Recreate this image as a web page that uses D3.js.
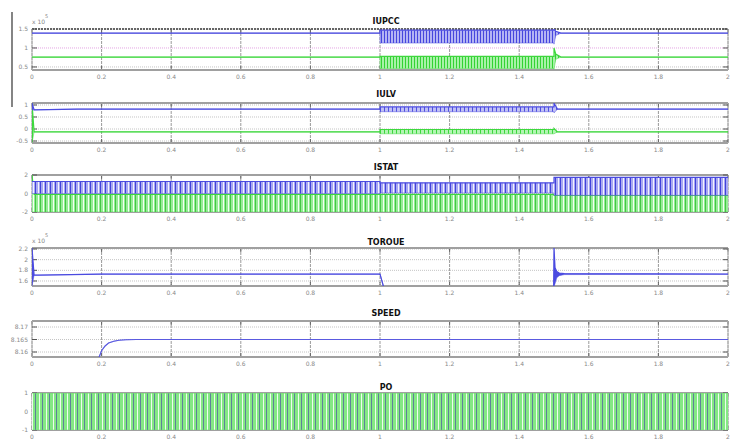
<!DOCTYPE html>
<html>
<head>
<meta charset="utf-8">
<title>Scope</title>
<script src="https://d3js.org/d3.v7.min.js" charset="utf-8"></script>
<style>
  body { margin: 0; background: #fff; }
  text { font-family: "DejaVu Sans", sans-serif; }
</style>
</head>
<body>
<div class="box"></div>
<script type="text/javascript">
    // time axis (s)
    var xTicks = [0, 0.2, 0.4, 0.6, 0.8, 1, 1.2, 1.4, 1.6, 1.8, 2];
    var xTickLabels = ["0", "0.2", "0.4", "0.6", "0.8", "1", "1.2", "1.4", "1.6", "1.8", "2"];

    // IUPCC (x10^5) - envelopes of the two traces
    var iupccTime = [0, 1.0, 1.0, 1.5, 1.5, 1.505, 1.52, 2];
    var iupccBlueHi = [1.39, 1.39, 1.47, 1.47, 1.5, 1.44, 1.39, 1.39];
    var iupccBlueLo = [1.39, 1.39, 1.13, 1.13, 1.1, 1.33, 1.39, 1.39];
    var iupccGreenHi = [0.76, 0.76, 0.78, 0.78, 1.0, 0.84, 0.76, 0.76];
    var iupccGreenLo = [0.76, 0.76, 0.46, 0.46, 0.44, 0.7, 0.76, 0.76];
    var iupccTicks = [0.5, 1, 1.5];
    var iupccTickLabels = ["0.5", "1", "1.5"];

    // IULV
    var iulvTime = [0, 0.006, 0.13, 1.0, 1.0, 1.5, 1.5, 1.51, 2];
    var iulvBlueHi = [1.08, 0.8, 0.83, 0.83, 0.92, 0.92, 1.08, 0.83, 0.83];
    var iulvBlueLo = [0.8, 0.8, 0.83, 0.83, 0.72, 0.72, 0.67, 0.83, 0.83];
    var iulvGreenHi = [1.08, -0.12, -0.12, -0.12, -0.02, -0.02, 0.02, -0.12, -0.12];
    var iulvGreenLo = [-0.58, -0.12, -0.12, -0.12, -0.2, -0.2, -0.2, -0.12, -0.12];
    var iulvTicks = [-0.5, 0, 0.5, 1];
    var iulvTickLabels = ["-0.5", "0", "0.5", "1"];

    // ISTAT
    var istatTime = [0, 0.006, 1.0, 1.0, 1.5, 1.5, 2];
    var istatBlueHi = [1.3, 1.3, 1.3, 1.15, 1.15, 1.75, 1.75];
    var istatBlueLo = [0, 0, 0, 0.05, 0.05, -0.2, -0.2];
    var istatGreenHi = [2, -0.1, -0.1, -0.1, -0.1, -0.2, -0.2];
    var istatGreenLo = [-2, -2, -2, -2, -2, -2, -2];
    var istatTicks = [-2, 0, 2];
    var istatTickLabels = ["-2", "0", "2"];

    // TORQUE (x10^5)
    var torqueTime = [0, 0.006, 0.02, 0.2, 0.998, 1.0, 1.012, 1.499, 1.5, 1.503, 1.508, 1.515, 1.53, 2];
    var torqueHi = [2.22, 1.71, 1.71, 1.73, 1.73, 1.73, 1.45, 1.45, 2.22, 1.85, 1.78, 1.75, 1.74, 1.73];
    var torqueLo = [1.5, 1.71, 1.71, 1.73, 1.73, 1.73, 1.45, 1.45, 1.5, 1.55, 1.66, 1.7, 1.72, 1.73];
    var torqueTicks = [1.6, 1.8, 2.0, 2.2];
    var torqueTickLabels = ["1.6", "1.8", "2", "2.2"];

    // SPEED
    var speedTime = [0.19, 0.2, 0.21, 0.22, 0.235, 0.25, 0.27, 0.3, 0.35, 2];
    var speedValue = [8.157, 8.1605, 8.1624, 8.1636, 8.1643, 8.1647, 8.1649, 8.165, 8.165, 8.165];
    var speedTicks = [8.16, 8.165, 8.17];
    var speedTickLabels = ["8.16", "8.165", "8.17"];

    // PO (pulses between -1 and 1)
    var poTime = [0, 0.006, 2];
    var poHi = [1, 1, 1];
    var poLo = [-1, -1, -1];
    var poTicks = [-1, 0, 1];
    var poTickLabels = ["-1", "0", "1"];

    var blue = "#4b4be0";
    var green = "#3ed83e";

    var width = 743, height = 442;
    var x = d3.scaleLinear().domain([0, 2]).range([32, 728]);

    var svg = d3.select("div.box").append("svg")
        .attr("width", width)
        .attr("height", height);
    var defs = svg.append("defs");

    function stripe(id, w, bg, line, gap) {
        var p = defs.append("pattern").attr("id", id)
            .attr("patternUnits", "userSpaceOnUse")
            .attr("width", w).attr("height", 8);
        p.append("rect").attr("width", w).attr("height", 8).attr("fill", bg);
        p.append("rect").attr("width", 1).attr("height", 8).attr("fill", line);
        if (gap) p.append("rect").attr("x", Math.floor(w / 2) + 1).attr("width", 1).attr("height", 8).attr("fill", gap);
    }
    stripe("bBlue3", 3, "#b4b4f4", "#4646de");
    stripe("bGreen3", 3, "#a8f2a8", "#34d234");
    stripe("bBlue4", 4, "#c0c0f4", "#5050e0");
    stripe("bGreen4", 4, "#b4f4b4", "#3cd83c");
    stripe("bBlue5", 5, "#a8a8f2", "#4242da", "#f2f2fe");
    stripe("bGreen5", 5, "#96ec96", "#44c844", "#f4fff4");
    stripe("bPO", 7, "#84e884", "#5f7f9a", "#eefcee");

    var panels = [
        { title: "IUPCC", top: 29, bottom: 70, titleY: 24, domain: [0.42, 1.5], exp: true,
          ticks: iupccTicks, labels: iupccTickLabels, midColor: "#e4a4e4",
          bands: [
              { t: iupccTime, hi: iupccBlueHi, lo: iupccBlueLo, color: blue, fill: "url(#bBlue3)" },
              { t: iupccTime, hi: iupccGreenHi, lo: iupccGreenLo, color: green, fill: "url(#bGreen3)" }
          ] },
        { title: "IULV", top: 103, bottom: 143, titleY: 97, domain: [-0.583, 1.083],
          ticks: iulvTicks, labels: iulvTickLabels,
          bands: [
              { t: iulvTime, hi: iulvGreenHi, lo: iulvGreenLo, color: green, fill: "url(#bGreen4)" },
              { t: iulvTime, hi: iulvBlueHi, lo: iulvBlueLo, color: blue, fill: "url(#bBlue4)" }
          ] },
        { title: "ISTAT", top: 175, bottom: 212, titleY: 170, domain: [-2, 2],
          ticks: istatTicks, labels: istatTickLabels,
          bands: [
              { t: istatTime, hi: istatGreenHi, lo: istatGreenLo, color: green, fill: "url(#bGreen5)" },
              { t: istatTime, hi: istatBlueHi, lo: istatBlueLo, color: blue, fill: "url(#bBlue5)" }
          ] },
        { title: "TOROUE", top: 248, bottom: 286, titleY: 245, domain: [1.506, 2.219], exp: true,
          ticks: torqueTicks, labels: torqueTickLabels,
          bands: [
              { t: torqueTime, hi: torqueHi, lo: torqueLo, color: blue, fill: blue }
          ] },
        { title: "SPEED", top: 321, bottom: 357, titleY: 316, domain: [8.158, 8.1724],
          ticks: speedTicks, labels: speedTickLabels,
          bands: [
              { t: speedTime, hi: speedValue, lo: speedValue, color: "#5a5ae0", fill: "none" }
          ] },
        { title: "PO", top: 393, bottom: 430, titleY: 390, domain: [-1, 1],
          ticks: poTicks, labels: poTickLabels,
          bands: [
              { t: poTime, hi: poHi, lo: poLo, color: "#6fdc6f", fill: "url(#bPO)" }
          ] }
    ];

    // stray scan mark on the left
    svg.append("line").attr("x1", 12).attr("x2", 12).attr("y1", 12).attr("y2", 107)
        .attr("stroke", "#333").attr("stroke-width", 1.2);

    panels.forEach(function(p, pi) {
        var y = d3.scaleLinear().domain(p.domain).range([p.bottom, p.top]);
        var g = svg.append("g");

        g.append("clipPath").attr("id", "clip" + pi)
            .append("rect").attr("x", x(0)).attr("y", p.top)
            .attr("width", x(2) - x(0)).attr("height", p.bottom - p.top);

        // horizontal grid
        g.selectAll("line.hgrid").data(p.ticks).enter().append("line")
            .attr("class", "hgrid")
            .attr("x1", x(0)).attr("x2", x(2))
            .attr("y1", function(d) { return y(d); })
            .attr("y2", function(d) { return y(d); })
            .attr("stroke", function(d, i) { return (p.midColor && i === 1) ? p.midColor : "#c4c4c4"; })
            .attr("stroke-dasharray", "1,1");

        // vertical grid
        g.selectAll("line.vgrid").data(xTicks).enter().append("line")
            .attr("class", "vgrid")
            .attr("x1", function(d) { return x(d); })
            .attr("x2", function(d) { return x(d); })
            .attr("y1", p.top).attr("y2", p.bottom)
            .attr("stroke", "#9a9a9a")
            .attr("stroke-dasharray", "3,1");
        g.selectAll("line.vtick").data(xTicks).enter().append("line")
            .attr("x1", function(d) { return x(d); })
            .attr("x2", function(d) { return x(d); })
            .attr("y1", p.bottom - 4).attr("y2", p.bottom)
            .attr("stroke", "#666");
        g.selectAll("line.vtick2").data(xTicks).enter().append("line")
            .attr("x1", function(d) { return x(d); })
            .attr("x2", function(d) { return x(d); })
            .attr("y1", p.top).attr("y2", p.top + 4)
            .attr("stroke", "#666");

        // box
        g.append("line").attr("x1", x(0)).attr("x2", x(2)).attr("y1", p.top).attr("y2", p.top)
            .attr("stroke", pi === 0 ? "#666" : "#a0a0a0").attr("stroke-width", 2)
            .attr("stroke-dasharray", pi === 0 ? "2,1" : null);
        g.append("line").attr("x1", x(0)).attr("x2", x(2)).attr("y1", p.bottom).attr("y2", p.bottom)
            .attr("stroke", "#a0a0a0").attr("stroke-width", 2);
        g.append("line").attr("x1", x(0)).attr("x2", x(0)).attr("y1", p.top).attr("y2", p.bottom)
            .attr("stroke", "#b0b0b0");
        g.append("line").attr("x1", x(2)).attr("x2", x(2)).attr("y1", p.top).attr("y2", p.bottom)
            .attr("stroke", "#b0b0b0");

        // y tick marks
        g.selectAll("line.yl").data(p.ticks).enter().append("line")
            .attr("x1", x(0)).attr("x2", x(0) + 5)
            .attr("y1", function(d) { return y(d); }).attr("y2", function(d) { return y(d); })
            .attr("stroke", "#555");
        g.selectAll("line.yr").data(p.ticks).enter().append("line")
            .attr("x1", x(2) - 5).attr("x2", x(2))
            .attr("y1", function(d) { return y(d); }).attr("y2", function(d) { return y(d); })
            .attr("stroke", "#555");

        // traces
        var plot = g.append("g").attr("clip-path", "url(#clip" + pi + ")");
        p.bands.forEach(function(b) {
            var pts = b.t.map(function(t, i) { return { t: t, hi: b.hi[i], lo: b.lo[i] }; });
            var area = d3.area()
                .x(function(d) { return x(d.t); })
                .y0(function(d) { return y(d.lo); })
                .y1(function(d) { return y(d.hi); });
            plot.append("path").datum(pts).attr("d", area).attr("fill", b.fill);
            var lineHi = d3.line().x(function(d) { return x(d.t); }).y(function(d) { return y(d.hi); });
            var lineLo = d3.line().x(function(d) { return x(d.t); }).y(function(d) { return y(d.lo); });
            plot.append("path").datum(pts).attr("d", lineHi)
                .attr("fill", "none").attr("stroke", b.color).attr("stroke-width", 1.2);
            plot.append("path").datum(pts).attr("d", lineLo)
                .attr("fill", "none").attr("stroke", b.color).attr("stroke-width", 0.8)
                .attr("stroke-opacity", 0.6);
        });

        // y tick labels
        g.selectAll("text.yt").data(p.ticks).enter().append("text")
            .attr("x", x(0) - 4)
            .attr("y", function(d) { return y(d) + 2; })
            .attr("text-anchor", "end")
            .attr("font-size", 6)
            .attr("fill", "#888")
            .text(function(d, i) { return p.labels[i]; });

        // x tick labels
        g.selectAll("text.xt").data(xTicks).enter().append("text")
            .attr("x", function(d) { return x(d); })
            .attr("y", p.bottom + 9)
            .attr("text-anchor", "middle")
            .attr("font-size", 6)
            .attr("fill", "#888")
            .text(function(d, i) { return xTickLabels[i]; });

        // exponent label
        if (p.exp) {
            g.append("text").attr("x", x(0)).attr("y", p.top - 5)
                .attr("font-size", 6).attr("fill", "#888").text("x 10");
            g.append("text").attr("x", x(0) + 13).attr("y", p.top - 11)
                .attr("font-size", 5).attr("fill", "#888").text("5");
        }

        // title
        g.append("text").attr("x", 386).attr("y", p.titleY)
            .attr("text-anchor", "middle")
            .attr("font-size", 8)
            .attr("font-weight", "bold")
            .attr("fill", "#111")
            .text(p.title);
    });
</script>
</body>
</html>
